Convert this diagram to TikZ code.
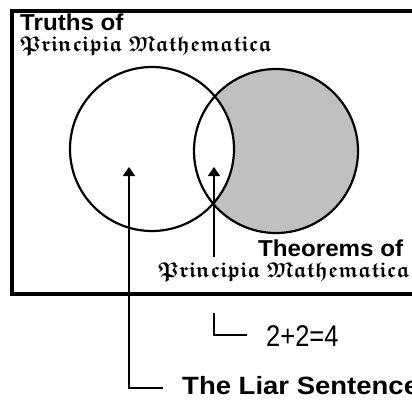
\documentclass[tikz,border=0pt]{standalone}
\usepackage{amssymb}
\usepackage{fontspec}
\newfontfamily\labelfont[FakeStretch=1.05]{Liberation Sans}
\newfontfamily\liarfont[FakeStretch=1.1]{Liberation Sans}
\newfontfamily\sumfont[FakeStretch=0.85]{Liberation Sans}
\newcommand\gothfont{\usefont{U}{euf}{b}{n}}
\definecolor{Shade}{HTML}{C0C0C0}
\usetikzlibrary{arrows.meta}

\begin{document}
\begin{tikzpicture}[x=1pt, y=-1pt,
  frame/.style={draw=black, line width=3.5pt},
  setline/.style={draw=black, line width=2.2pt},
  ptr/.style={-{Triangle[width=12pt, length=9pt]}, line width=1.6pt},
  leg/.style={line width=1.6pt},
  lbl/.style={inner sep=0pt, anchor=base west, font=\labelfont\bfseries\fontsize{23}{26}\selectfont},
  goth/.style={inner sep=0pt, anchor=base west, font=\fontsize{21.5}{24}\selectfont\gothfont},
  liar/.style={inner sep=0pt, anchor=base west, font=\liarfont\bfseries\fontsize{25}{28}\selectfont},
  sum/.style={inner sep=0pt, anchor=base west, font=\sumfont\fontsize{30}{32}\selectfont}
]
\clip (0,0) rectangle (412,401);

%% ---- Outer box: truths ----
\draw[frame] (12,11) rectangle (430,294);
\node[lbl]  (truths)  at (20,31) {Truths of};
\node[goth] (pmtop)   at (20,52) {Principia\hspace{0.3em}Mathematica};

%% ---- The two sets ----
\coordinate (lc) at (152,149);
\coordinate (rc) at (276,151);
\fill[Shade] (rc) circle (82);
\fill[white] (lc) circle (82);
\draw[setline] (lc) circle (82);
\draw[setline] (rc) circle (82);

\node[lbl]  (theorems) at (258,256) {Theorems of};
\node[goth] (pmbot)    at (158,277) {Principia\hspace{0.3em}Mathematica};

%% ---- Pointers ----
\coordinate (liartip) at (129,167);
\coordinate (sumtip)  at (214,167);
\coordinate (sumtop)  at (214,257);
\coordinate (sumbot)  at (214,313);

\node[sum]  (sum)  at (266,346) {2+2=4};
\node[liar] (lsent) at (182,394) {The Liar Sentence};

\draw[ptr] ([xshift=-19pt, yshift=6pt]lsent.base west) -| (liartip);
\draw[ptr] (sumtop) -- (sumtip);
\draw[leg] (sumbot) |- ([xshift=-19pt, yshift=11pt]sum.base west);

\end{tikzpicture}
\end{document}
